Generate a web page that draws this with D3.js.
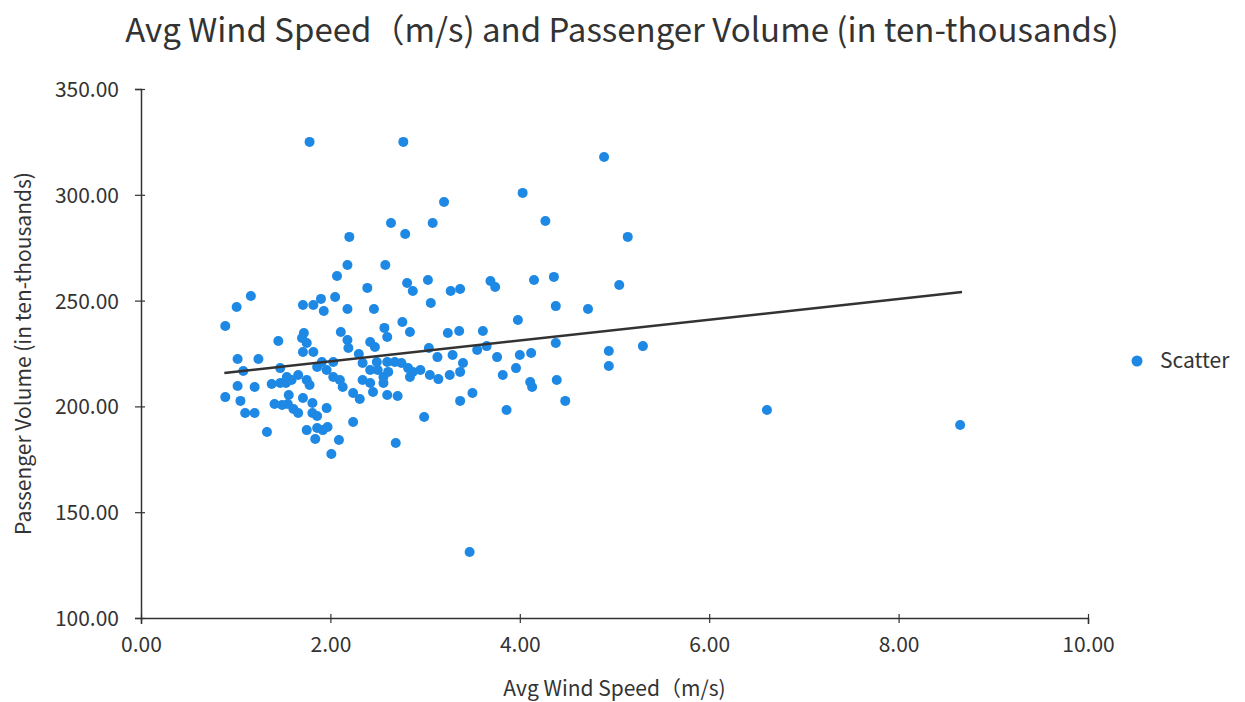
<!DOCTYPE html>
<html>
<head>
<meta charset="utf-8">
<script src="https://cdn.jsdelivr.net/npm/d3@7"></script>
<style>
  body { margin: 0; background: #fff; }
  svg text { font-family: "Noto Sans CJK SC", "Noto Sans", sans-serif; fill: #333; }
</style>
</head>
<body>
<svg id="chart" width="1245" height="702"></svg>
<script>
// wind speed (m/s) for each point
const windSpeed = [
  1.78, 2.77, 4.89, 4.03, 3.20, 2.64, 3.08, 4.27, 2.79, 2.20,
  5.14, 2.18, 2.58, 2.07, 2.81, 2.87, 3.03, 3.27, 3.37, 3.69,
  3.74, 4.15, 4.36, 5.05, 2.39, 1.16, 1.90, 2.05, 3.06, 4.38,
  4.72, 1.01, 1.71, 1.82, 1.93, 2.18, 2.46, 0.89, 1.45, 1.72,
  1.70, 1.75, 1.71, 1.82, 2.11, 2.18, 2.19, 2.42, 2.47, 2.57,
  2.60, 2.76, 2.84, 3.24, 3.36, 3.61, 3.98, 4.38, 4.94, 4.94,
  5.30, 1.02, 1.24, 1.08, 1.47, 1.54, 1.59, 1.66, 1.75, 1.78,
  1.38, 1.47, 1.86, 1.91, 2.30, 2.03, 2.34, 2.49, 2.60, 2.68,
  2.75, 1.96, 2.03, 2.42, 2.50, 2.61, 2.56, 2.10, 2.13, 2.34,
  2.42, 2.56, 3.04, 3.13, 3.29, 3.55, 3.65, 3.76, 4.00, 4.12,
  3.40, 3.37, 3.26, 3.96, 3.82, 2.82, 2.87, 2.95, 3.05, 3.14,
  2.84, 4.11, 4.13, 4.39, 2.60, 2.71, 3.37, 3.50, 4.48, 3.86,
  2.99, 2.69, 1.02, 1.20, 0.89, 1.05, 1.56, 1.55, 1.41, 1.49,
  1.61, 1.66, 1.71, 1.81, 1.96, 1.10, 1.20, 1.81, 1.86, 1.33,
  1.75, 1.86, 1.92, 1.97, 1.84, 2.01, 2.24, 2.31, 2.45, 2.24,
  2.09, 3.47, 6.61, 8.65, 1.53
];

// passenger volume (ten-thousands) for each point
const passengers = [
  325.0, 325.0, 317.9, 300.9, 296.6, 286.7, 286.7, 287.6, 281.5, 280.1,
  280.1, 266.8, 266.8, 261.6, 258.3, 254.5, 259.7, 254.5, 255.5, 259.3,
  256.4, 259.7, 261.2, 257.4, 256.0, 252.2, 250.8, 251.7, 248.9, 247.4,
  246.0, 247.0, 247.9, 247.9, 245.1, 246.0, 246.0, 238.0, 230.9, 234.7,
  232.3, 230.0, 225.7, 225.7, 235.2, 231.4, 227.6, 230.4, 228.1, 237.1,
  232.8, 239.9, 235.2, 234.7, 235.6, 235.6, 240.8, 230.0, 226.2, 219.1,
  228.5, 222.4, 222.4, 216.7, 218.1, 213.9, 212.5, 214.8, 212.5, 210.1,
  210.6, 211.1, 218.6, 221.0, 224.8, 221.0, 220.5, 221.0, 221.0, 221.0,
  220.5, 217.2, 213.9, 217.2, 217.2, 216.3, 213.9, 212.5, 209.2, 212.5,
  211.1, 211.1, 227.6, 223.3, 224.3, 226.7, 228.5, 223.3, 224.3, 225.2,
  220.5, 216.3, 214.8, 218.1, 214.8, 218.1, 216.3, 217.2, 214.8, 212.9,
  213.9, 211.5, 209.2, 212.5, 205.4, 204.9, 202.6, 206.3, 202.6, 198.3,
  195.0, 182.7, 209.6, 209.2, 204.4, 202.6, 205.4, 201.1, 201.1, 200.7,
  198.8, 196.9, 204.0, 201.6, 199.2, 196.9, 196.9, 196.9, 195.5, 187.9,
  188.8, 189.8, 188.8, 190.3, 184.6, 177.5, 206.3, 203.5, 206.8, 192.6,
  184.1, 131.2, 198.3, 191.2, 211.1
];

// trend line end points
const trendX = [0.88, 8.67];
const trendY = [215.8, 254.1];

const xTicks = [0, 2, 4, 6, 8, 10];
const yTicks = [100, 150, 200, 250, 300, 350];

const titleText = "Avg Wind Speed（m/s) and Passenger Volume (in ten-thousands)";
const xLabel = "Avg Wind Speed（m/s)";
const yLabel = "Passenger Volume (in ten-thousands)";
const legendLabel = "Scatter";

const dotColor = "#1e88e5";
const axisColor = "#333";

const svg = d3.select("#chart");

const xScale = d3.scaleLinear()
    .domain([0, 10])
    .range([141, 1088]);
const yScale = d3.scaleLinear()
    .domain([100, 350])
    .range([618, 89]);

// axes
const xAxis = svg.append("g")
    .attr("transform", "translate(0," + yScale(100) + ")")
    .call(d3.axisBottom(xScale).tickValues(xTicks).tickFormat(d3.format(".2f")).tickSizeOuter(0).tickSize(6));
const yAxis = svg.append("g")
    .attr("transform", "translate(" + xScale(0) + ",0)")
    .call(d3.axisLeft(yScale).tickValues(yTicks).tickFormat(d3.format(".2f")).tickSizeOuter(0).tickSize(6));

[xAxis, yAxis].forEach(a => {
    a.select(".domain").attr("stroke", axisColor).attr("stroke-width", 1.5);
    a.selectAll(".tick line").attr("stroke", axisColor).attr("stroke-width", 1.2);
    a.selectAll(".tick text")
        .style("font-family", "'Noto Sans CJK SC', sans-serif")
        .style("font-size", "21px")
        .attr("fill", axisColor);
});
xAxis.selectAll(".tick line").attr("y1", -4).attr("y2", 5);
xAxis.selectAll(".tick text").attr("dy", "0").attr("y", 34);
yAxis.selectAll(".tick line").attr("x1", 4).attr("x2", -6);
yAxis.selectAll(".tick text").attr("x", -22).attr("dy", "0.36em");

// points
svg.append("g")
    .selectAll("circle")
    .data(windSpeed.map((w, i) => ({x: w, y: passengers[i]})))
    .enter()
    .append("circle")
    .attr("cx", d => xScale(d.x))
    .attr("cy", d => yScale(d.y))
    .attr("r", 5)
    .attr("fill", dotColor);

// trend line
svg.append("path")
    .datum(trendX.map((x, i) => [x, trendY[i]]))
    .attr("d", d3.line().x(d => xScale(d[0])).y(d => yScale(d[1])))
    .attr("fill", "none")
    .attr("stroke", "#333")
    .attr("stroke-width", 2.5);

// title and labels
svg.append("text")
    .attr("x", 622)
    .attr("y", 42)
    .attr("text-anchor", "middle")
    .style("font-size", "33px")
    .text(titleText);

svg.append("text")
    .attr("x", (xScale(0) + xScale(10)) / 2)
    .attr("y", 696)
    .attr("text-anchor", "middle")
    .style("font-size", "21px")
    .text(xLabel);

svg.append("text")
    .attr("transform", "translate(31," + (yScale(225)) + ") rotate(-90)")
    .attr("text-anchor", "middle")
    .style("font-size", "21px")
    .text(yLabel);

// legend
svg.append("circle")
    .attr("cx", 1137)
    .attr("cy", 361)
    .attr("r", 5.5)
    .attr("fill", dotColor);
svg.append("text")
    .attr("x", 1160)
    .attr("y", 368)
    .style("font-size", "21px")
    .text(legendLabel);
</script>
</body>
</html>
